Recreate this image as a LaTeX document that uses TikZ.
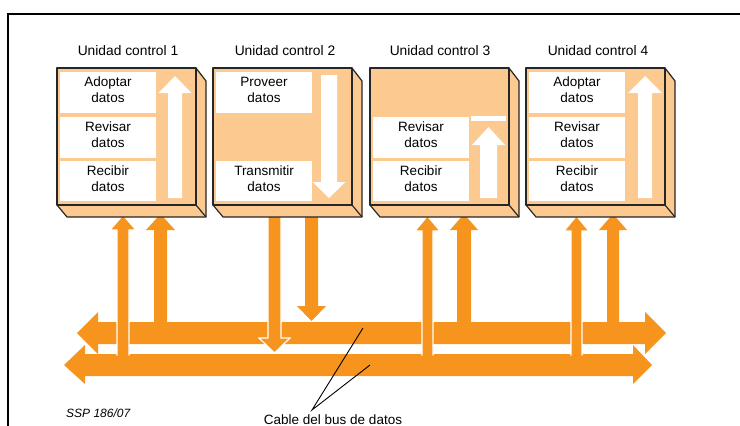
\documentclass[tikz,border=0pt]{standalone}
\usepackage{fontspec}
\setmainfont{Liberation Sans}
\definecolor{peach}{HTML}{FCC990}
\definecolor{borange}{HTML}{F7941D}
\newcommand\ctrlbox[2]{%
  \fill[peach] (#1,68) rectangle ({#1+139},205);
  \fill[peach] ({#1+139},68) -- ({#1+149},81) -- ({#1+149},217) -- ({#1+10},217) -- (#1,205) -- ({#1+139},205) -- cycle;
  \draw[boxline] (#1,68) rectangle ({#1+139},205);
  \draw[boxline] ({#1+139},68) -- ({#1+149},81) -- ({#1+149},217) -- ({#1+10},217) -- (#1,205);
  \draw[boxline] ({#1+139},205) -- ({#1+149},217);
  \coordinate (#2) at ({#1+70},68);
}
\newcommand\cellrow[3]{\fill[white] ({#1+3},#2) rectangle ({#1+99},#3);}
% style, cx, tail y, head base y, tip y, half shaft, half head
\newcommand\blockarrow[7]{%
  \path[#1] ({#2-#6},#3) -- ({#2-#6},#4) -- ({#2-#7},#4) -- (#2,#5) -- ({#2+#7},#4) -- ({#2+#6},#4) -- ({#2+#6},#3);
}
\begin{document}
\begin{tikzpicture}[x=1pt,y=-1pt,
  boxline/.style={draw=black!85,line width=1.2pt,line join=round},
  title/.style={font=\fontsize{13.8}{16}\selectfont},
  celltxt/.style={font=\fontsize{13.5}{16}\selectfont,align=center,inner sep=0pt},
  busfill/.style={fill=borange},
  outl/.style={fill=borange,draw=white,line width=1.2pt,line join=miter}]
\useasboundingbox (0,0) rectangle (740,426);
\draw[line width=2pt] (8,430) -- (8,14) -- (745,14);

% titles
\node[title] (t1) at (128,51) {Unidad control 1};
\node[title] (t2) at (285,51) {Unidad control 2};
\node[title] (t3) at (440,51) {Unidad control 3};
\node[title] (t4) at (598,51) {Unidad control 4};

% buses
\fill[borange] (64,365) -- (85,345) -- (85,354) -- (633,354) -- (633,345) -- (652,365) -- (633,384) -- (633,376) -- (85,376) -- (85,384) -- cycle;
\fill[borange] (77,333) -- (98,312) -- (98,322) -- (645,322) -- (645,312) -- (666,333) -- (645,354) -- (645,344) -- (98,344) -- (98,354) -- cycle;

% arrows between upper bus and boxes
\blockarrow{busfill}{160.5}{324}{230}{214}{6.5}{14.5}
\blockarrow{busfill}{311.5}{212}{306}{321}{6.5}{14.5}
\blockarrow{busfill}{464}{324}{230}{214}{7}{14}
\blockarrow{busfill}{613}{324}{230}{214}{6}{14}
% arrows between lower bus and boxes (cross the upper bus)
\blockarrow{outl}{123}{355.5}{230}{215}{6}{13}
\blockarrow{outl}{274.5}{212}{338}{353}{6.5}{15.5}
\blockarrow{outl}{427.5}{355.5}{231}{216}{5.5}{12.5}
\blockarrow{outl}{576.5}{355.5}{231}{216}{5.5}{12.5}

% boxes
\ctrlbox{57}{b1}
\ctrlbox{213}{b2}
\ctrlbox{370}{b3}
\ctrlbox{526}{b4}

% box 1
\cellrow{57}{72}{113}\cellrow{57}{117}{158}\cellrow{57}{161}{201}
\blockarrow{fill=white}{175}{198}{93}{76}{7}{16.5}
\node[celltxt] (c11) at (108,90) {Adoptar\\datos};
\node[celltxt] (c12) at (108,135) {Revisar\\datos};
\node[celltxt] (c13) at (108,179) {Recibir\\datos};

% box 2
\cellrow{213}{72}{113}\cellrow{213}{161}{201}
\blockarrow{fill=white}{329}{75}{182}{198}{8}{16.5}
\node[celltxt] (c21) at (264,90) {Proveer\\datos};
\node[celltxt] (c23) at (264,179) {Transmitir\\datos};

% box 3
\cellrow{370}{117}{158}\cellrow{370}{161}{201}
\fill[white] (471,116) rectangle (506,121);
\blockarrow{fill=white}{488.5}{198}{145}{127}{8.5}{16.5}
\node[celltxt] (c32) at (421,135) {Revisar\\datos};
\node[celltxt] (c33) at (421,179) {Recibir\\datos};

% box 4
\cellrow{526}{72}{113}\cellrow{526}{117}{158}\cellrow{526}{161}{201}
\blockarrow{fill=white}{645}{198}{93}{76}{7}{17}
\node[celltxt] (c41) at (577,90) {Adoptar\\datos};
\node[celltxt] (c42) at (577,135) {Revisar\\datos};
\node[celltxt] (c43) at (577,179) {Recibir\\datos};

% labels
\node[font=\fontsize{12}{14}\selectfont\itshape,anchor=base west,inner sep=0pt] (ssp) at (66,417) {SSP 186/07};
\node[font=\fontsize{13.5}{16}\selectfont,anchor=base,inner sep=0pt] (lbl) at (333,424) {Cable del bus de datos};
\coordinate (apex) at (312,410);
\coordinate (busU) at (363,328);
\coordinate (busL) at (370,365);
\draw[line width=0.9pt] (busU) -- (apex) -- (busL);
\end{tikzpicture}
\end{document}
